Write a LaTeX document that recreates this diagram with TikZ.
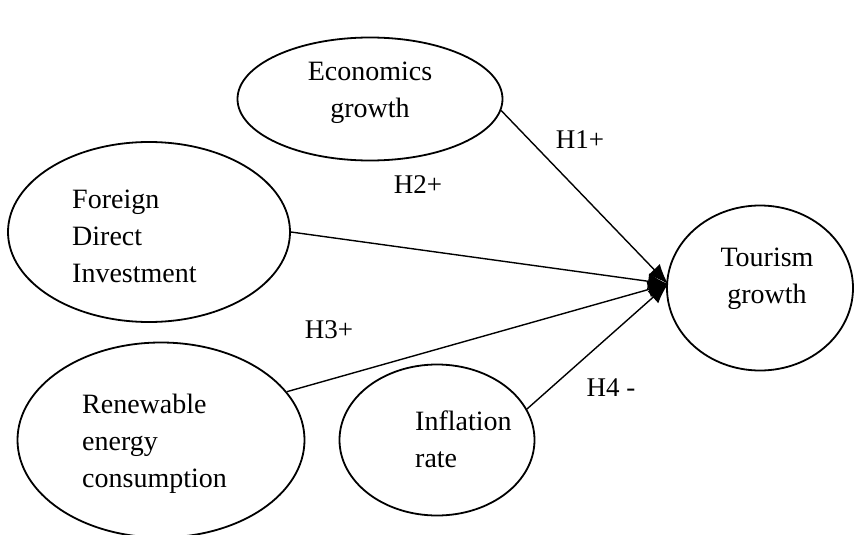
\documentclass[tikz,border=0pt]{standalone}
\usepackage{fontspec}
\setmainfont{Liberation Serif}
\usetikzlibrary{shapes.geometric,arrows.meta}
\begin{document}
\begin{tikzpicture}[x=1pt,y=-1pt,
  ell/.style={draw,ellipse,line width=1.8pt,inner sep=0pt},
  txt/.style={inner sep=0pt,font=\fontsize{28}{37}\selectfont},
  lbl/.style={inner sep=0pt,font=\fontsize{27}{32}\selectfont},
  conn/.style={line width=1.4pt,-{Latex[length=20pt,width=16pt]}}]
\useasboundingbox (0,0) rectangle (857,535);
\node[ell,minimum width=265pt,minimum height=123pt] (econ) at (370,99) {};
\node[ell,minimum width=282pt,minimum height=180pt] (fdi) at (149,232) {};
\node[ell,minimum width=287pt,minimum height=195pt] (ren) at (161,440) {};
\node[ell,minimum width=195pt,minimum height=151pt] (inf) at (437,440) {};
\node[ell,minimum width=186pt,minimum height=165pt] (tour) at (760,288) {};
\node[txt,align=center] (econt) at (370,93) {Economics\\growth};
\node[txt,align=left,anchor=west] (fdit) at (72,236) {Foreign\\Direct\\Investment};
\node[txt,align=left,anchor=west] (rent) at (82,444) {Renewable\\energy\\consumption};
\node[txt,align=left,anchor=west] (inft) at (415,439) {Inflation\\rate};
\node[txt,align=center] (tourt) at (767,279) {Tourism\\growth};
\coordinate (hub) at (668,284);
\draw[conn] (econ.-5) -- (hub);
\draw[conn] (fdi.east) -- (hub);
\draw[conn] (ren.21) -- (hub);
\draw[conn] (inf.19) -- (hub);
\node[lbl] (h1) at (580,140) {H1+};
\node[lbl] (h2) at (418,185) {H2+};
\node[lbl] (h3) at (329,330) {H3+};
\node[lbl] (h4) at (611,388) {H4 -};
\end{tikzpicture}
\end{document}
